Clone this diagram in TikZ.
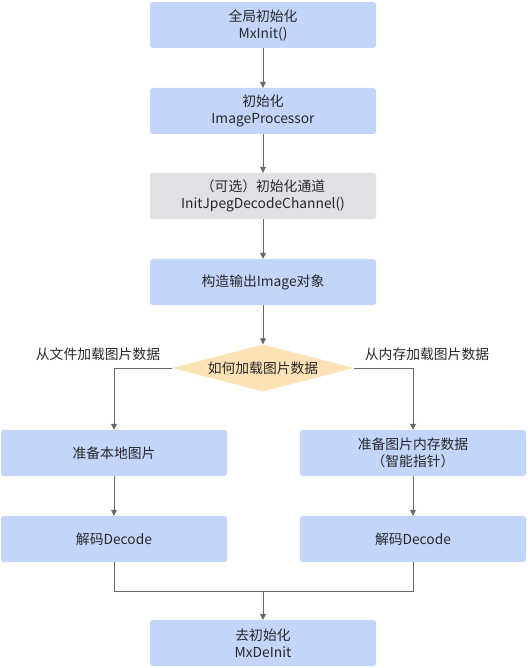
\documentclass[tikz,border=0pt]{standalone}
\usepackage{fontspec}
\setmainfont{Noto Sans CJK SC}
\usetikzlibrary{shapes.geometric,arrows.meta}
\definecolor{boxblue}{RGB}{195,213,250}
\definecolor{boxgray}{RGB}{224,225,229}
\definecolor{dpeach}{RGB}{253,226,181}
\definecolor{lncol}{RGB}{100,104,112}
\definecolor{txt}{RGB}{40,40,40}
\tikzset{
  stepbox/.style={draw=none, fill=boxblue, rounded corners=2.5pt, minimum width=226pt, minimum height=46pt, inner sep=0pt, align=center, text=txt, font=\fontsize{13.8pt}{17pt}\selectfont},
  graybox/.style={stepbox, fill=boxgray},
  decision/.style={diamond, aspect=3.9, fill=dpeach, draw=none, inner sep=0pt, minimum width=182pt, minimum height=47pt, text=txt, font=\fontsize{13.8pt}{17pt}\selectfont},
  conn/.style={draw=lncol, line width=0.8pt, -{Triangle[length=6pt,width=6pt]}},
  plain/.style={draw=lncol, line width=0.8pt},
  lbl/.style={text=txt, font=\fontsize{13.8pt}{17pt}\selectfont, inner sep=0pt}
}
\begin{document}
\begin{tikzpicture}[x=1pt,y=-1pt]
\useasboundingbox (0,0) rectangle (527,668);
\node[stepbox] (b1) at (263,25) {全局初始化\\MxInit()};
\node[stepbox] (b2) at (263,111) {初始化\\ImageProcessor};
\node[graybox] (b3) at (263,196) {（可选）初始化通道\\InitJpegDecodeChannel()};
\node[stepbox] (b4) at (263,282) {构造输出Image对象};
\node[decision] (d) at (263,368) {如何加载图片数据};
\node[stepbox] (l1) at (114,453) {准备本地图片};
\node[stepbox] (r1) at (413,453) {准备图片内存数据\\（智能指针）};
\node[stepbox] (l2) at (114,539) {解码Decode};
\node[stepbox] (r2) at (413,539) {解码Decode};
\node[stepbox] (b5) at (263,643) {去初始化\\MxDeInit};
\node[lbl] (ll) at (98,354) {从文件加载图片数据};
\node[lbl] (rl) at (427,354) {从内存加载图片数据};
\coordinate (m) at (263,591);
\draw[conn] (b1) -- (b2);
\draw[conn] (b2) -- (b3);
\draw[conn] (b3) -- (b4);
\draw[conn] (b4) -- (d);
\draw[conn] (d.west) -| (l1.north);
\draw[conn] (d.east) -| (r1.north);
\draw[conn] (l1) -- (l2);
\draw[conn] (r1) -- (r2);
\draw[plain] (l2.south) |- (m);
\draw[plain] (r2.south) |- (m);
\draw[conn] (m) -- (b5.north);
\end{tikzpicture}
\end{document}
